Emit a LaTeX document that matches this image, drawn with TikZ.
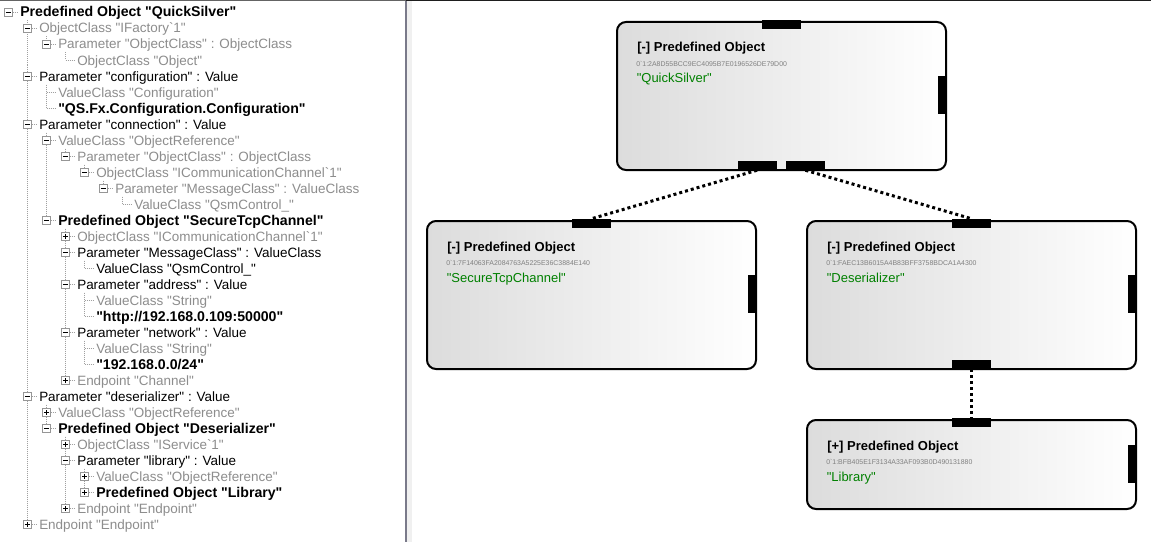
\documentclass[tikz,border=0pt]{standalone}
\usepackage{fontspec}
\newfontfamily\uif{Liberation Sans}
\definecolor{graytext}{RGB}{141,141,141}
\definecolor{treeln}{RGB}{160,160,160}
\definecolor{boxln}{RGB}{150,150,150}
\definecolor{nodeL}{RGB}{220,220,220}
\definecolor{hexcol}{RGB}{128,128,128}
\definecolor{namecol}{RGB}{0,128,0}
\definecolor{panelln}{RGB}{122,122,138}
\definecolor{stripcol}{RGB}{240,240,240}
\definecolor{topln}{RGB}{100,100,100}
\definecolor{toplnr}{RGB}{30,30,30}

\newcommand\trow[4]{\node[#3,anchor=base west] (t#1) at ({20+19*#2},{17+16*#1}) {#4};}
\newcommand\thl[2]{\draw[treeline] ({8.5+19*#2},{12.5+16*#1}) -- ++(10,0);}
\newcommand\tvl[3]{\draw[treeline] ({8.5+19*#1},{#2}) -- ({8.5+19*#1},{#3});}
\newcommand\tminus[2]{\node[tbox] (x#1) at ({8.5+19*#2},{12.5+16*#1}) {};\draw[tsign] ([xshift=-1.9pt]x#1.center) -- ([xshift=1.9pt]x#1.center);}
\newcommand\tplus[2]{\tminus{#1}{#2}\draw[tsign] ([yshift=-1.9pt]x#1.center) -- ([yshift=1.9pt]x#1.center);}

\begin{document}
\begin{tikzpicture}[x=0.75pt,y=-0.75pt,
  tnorm/.style={font=\uif\fontsize{10.1}{12}\selectfont, text=black, inner sep=0pt},
  tgray/.style={tnorm, text=graytext},
  tbold/.style={font=\uif\fontsize{10.6}{12}\selectfont\bfseries, text=black, inner sep=0pt},
  treeline/.style={draw=treeln, line width=0.75pt, dash pattern=on 0.75pt off 0.75pt},
  tbox/.style={draw=boxln, fill=white, line width=0.75pt, minimum size=6pt, inner sep=0pt, shape=rectangle},
  tsign/.style={draw=black, line width=0.75pt},
  objbox/.style={draw=black, line width=1.5pt, rounded corners=6.75pt, left color=nodeL, right color=white, minimum width=246.75pt, inner sep=0pt, anchor=north west},
  port/.style={fill=black, draw=none, inner sep=0pt, minimum width=29.25pt, minimum height=6.75pt},
  rport/.style={fill=black, draw=none, inner sep=0pt, minimum width=6pt, minimum height=28.5pt},
  ttl/.style={font=\uif\fontsize{9.75}{11}\selectfont\bfseries, anchor=base west, inner sep=0pt},
  hexid/.style={font=\uif\fontsize{5.2}{6}\selectfont, text=hexcol, anchor=base west, inner sep=0pt},
  gname/.style={font=\uif\fontsize{9.75}{11}\selectfont, text=namecol, anchor=base west, inner sep=0pt},
  conn/.style={draw=black, line width=2.25pt, dash pattern=on 2.25pt off 2.25pt}
]
\useasboundingbox (0,0) rectangle (1151,542);
\fill[white] (0,0) rectangle (1151,542);

% panel frame
\fill[stripcol] (406,0) rectangle (412,542);
\draw[panelln, line width=1.5pt] (406,0) -- (406,542);
\draw[topln, line width=0.75pt] (0,0.5) -- (406,0.5);
\draw[toplnr, line width=0.75pt] (406,0.5) -- (1151,0.5);

% tree lines
\tvl{1}{20.5}{524.5}
\tvl{2}{36.5}{44.5}
\tvl{3}{52.5}{60.5}
\tvl{2}{84.5}{108.5}
\tvl{2}{132.5}{220.5}
\tvl{3}{148.5}{156.5}
\tvl{4}{164.5}{172.5}
\tvl{5}{180.5}{188.5}
\tvl{6}{196.5}{204.5}
\tvl{3}{228.5}{380.5}
\tvl{4}{260.5}{268.5}
\tvl{4}{292.5}{316.5}
\tvl{4}{340.5}{364.5}
\tvl{2}{404.5}{428.5}
\tvl{3}{436.5}{508.5}
\tvl{4}{468.5}{492.5}
\thl{0}{0}\thl{1}{1}\thl{2}{2}\thl{3}{3}\thl{4}{1}\thl{5}{2}\thl{6}{2}\thl{7}{1}
\thl{8}{2}\thl{9}{3}\thl{10}{4}\thl{11}{5}\thl{12}{6}\thl{13}{2}\thl{14}{3}\thl{15}{3}
\thl{16}{4}\thl{17}{3}\thl{18}{4}\thl{19}{4}\thl{20}{3}\thl{21}{4}\thl{22}{4}\thl{23}{3}
\thl{24}{1}\thl{25}{2}\thl{26}{2}\thl{27}{3}\thl{28}{3}\thl{29}{4}\thl{30}{4}\thl{31}{3}\thl{32}{1}

% expander boxes
\tminus{0}{0}\tminus{1}{1}\tminus{2}{2}\tminus{4}{1}\tminus{7}{1}\tminus{8}{2}
\tminus{9}{3}\tminus{10}{4}\tminus{11}{5}\tminus{13}{2}\tminus{15}{3}\tminus{17}{3}
\tminus{20}{3}\tminus{24}{1}\tminus{26}{2}\tminus{28}{3}
\tplus{14}{3}\tplus{23}{3}\tplus{25}{2}\tplus{27}{3}\tplus{29}{4}\tplus{30}{4}\tplus{31}{3}\tplus{32}{1}

% tree texts
\trow{0}{0}{tbold}{Predefined Object "QuickSilver"}
\trow{1}{1}{tgray}{ObjectClass "IFactory`1"}
\trow{2}{2}{tgray}{Parameter "ObjectClass" : ObjectClass}
\trow{3}{3}{tgray}{ObjectClass "Object"}
\trow{4}{1}{tnorm}{Parameter "configuration" : Value}
\trow{5}{2}{tgray}{ValueClass "Configuration"}
\trow{6}{2}{tbold}{"QS.Fx.Configuration.Configuration"}
\trow{7}{1}{tnorm}{Parameter "connection" : Value}
\trow{8}{2}{tgray}{ValueClass "ObjectReference"}
\trow{9}{3}{tgray}{Parameter "ObjectClass" : ObjectClass}
\trow{10}{4}{tgray}{ObjectClass "ICommunicationChannel`1"}
\trow{11}{5}{tgray}{Parameter "MessageClass" : ValueClass}
\trow{12}{6}{tgray}{ValueClass "QsmControl\_"}
\trow{13}{2}{tbold}{Predefined Object "SecureTcpChannel"}
\trow{14}{3}{tgray}{ObjectClass "ICommunicationChannel`1"}
\trow{15}{3}{tnorm}{Parameter "MessageClass" : ValueClass}
\trow{16}{4}{tnorm}{ValueClass "QsmControl\_"}
\trow{17}{3}{tnorm}{Parameter "address" : Value}
\trow{18}{4}{tgray}{ValueClass "String"}
\trow{19}{4}{tbold}{"http://192.168.0.109:50000"}
\trow{20}{3}{tnorm}{Parameter "network" : Value}
\trow{21}{4}{tgray}{ValueClass "String"}
\trow{22}{4}{tbold}{"192.168.0.0/24"}
\trow{23}{3}{tgray}{Endpoint "Channel"}
\trow{24}{1}{tnorm}{Parameter "deserializer" : Value}
\trow{25}{2}{tgray}{ValueClass "ObjectReference"}
\trow{26}{2}{tbold}{Predefined Object "Deserializer"}
\trow{27}{3}{tgray}{ObjectClass "IService`1"}
\trow{28}{3}{tnorm}{Parameter "library" : Value}
\trow{29}{4}{tgray}{ValueClass "ObjectReference"}
\trow{30}{4}{tbold}{Predefined Object "Library"}
\trow{31}{3}{tgray}{Endpoint "Endpoint"}
\trow{32}{1}{tgray}{Endpoint "Endpoint"}

% diagram boxes
\node[objbox, minimum height=111pt] (qs) at (616,21) {};
\node[objbox, minimum height=111pt] (stc) at (426,220) {};
\node[objbox, minimum height=111pt] (des) at (806,220) {};
\node[objbox, minimum height=66.75pt] (lib) at (806,419) {};

% ports
\node[port] (qs-t) at (781.5,24.5) {};
\node[rport] (qs-r) at (941.5,95) {};
\node[port] (qs-b1) at (757,165.5) {};
\node[port] (qs-b2) at (805.5,165.5) {};
\node[port] (stc-t) at (591.5,223.5) {};
\node[rport] (stc-r) at (752,294) {};
\node[port] (des-t) at (971.5,223.5) {};
\node[rport] (des-r) at (1132,294) {};
\node[port] (des-b) at (971.5,364.5) {};
\node[port] (lib-t) at (971.5,422.5) {};
\node[rport] (lib-r) at (1132,463.5) {};

% connectors
\draw[conn] (qs-b1.south) -- (stc-t.north);
\draw[conn] (qs-b2.south) -- (des-t.north);
\draw[conn] (des-b.south) -- (lib-t.north);

% box texts
\node[ttl] (qs-title) at (637,52) {[-] Predefined Object};
\node[hexid] (qs-id) at (636,66.5) {0`1:2A8D55BCC9EC4095B7E0196526DE79D00};
\node[gname] (qs-name) at (636.5,83) {"QuickSilver"};

\node[ttl] (stc-title) at (447,251) {[-] Predefined Object};
\node[hexid] (stc-id) at (446,265.5) {0`1:7F14063FA2084763A5225E36C3884E140};
\node[gname] (stc-name) at (446.5,282) {"SecureTcpChannel"};

\node[ttl] (des-title) at (827,251) {[-] Predefined Object};
\node[hexid] (des-id) at (826,265.5) {0`1:FAEC13B6015A4B83BFF3758BDCA1A4300};
\node[gname] (des-name) at (826.5,282) {"Deserializer"};

\node[ttl] (lib-title) at (827,450) {[+] Predefined Object};
\node[hexid] (lib-id) at (826,464.5) {0`1:BFB405E1F3134A33AF093B0D490131880};
\node[gname] (lib-name) at (826.5,481) {"Library"};
\end{tikzpicture}
\end{document}
